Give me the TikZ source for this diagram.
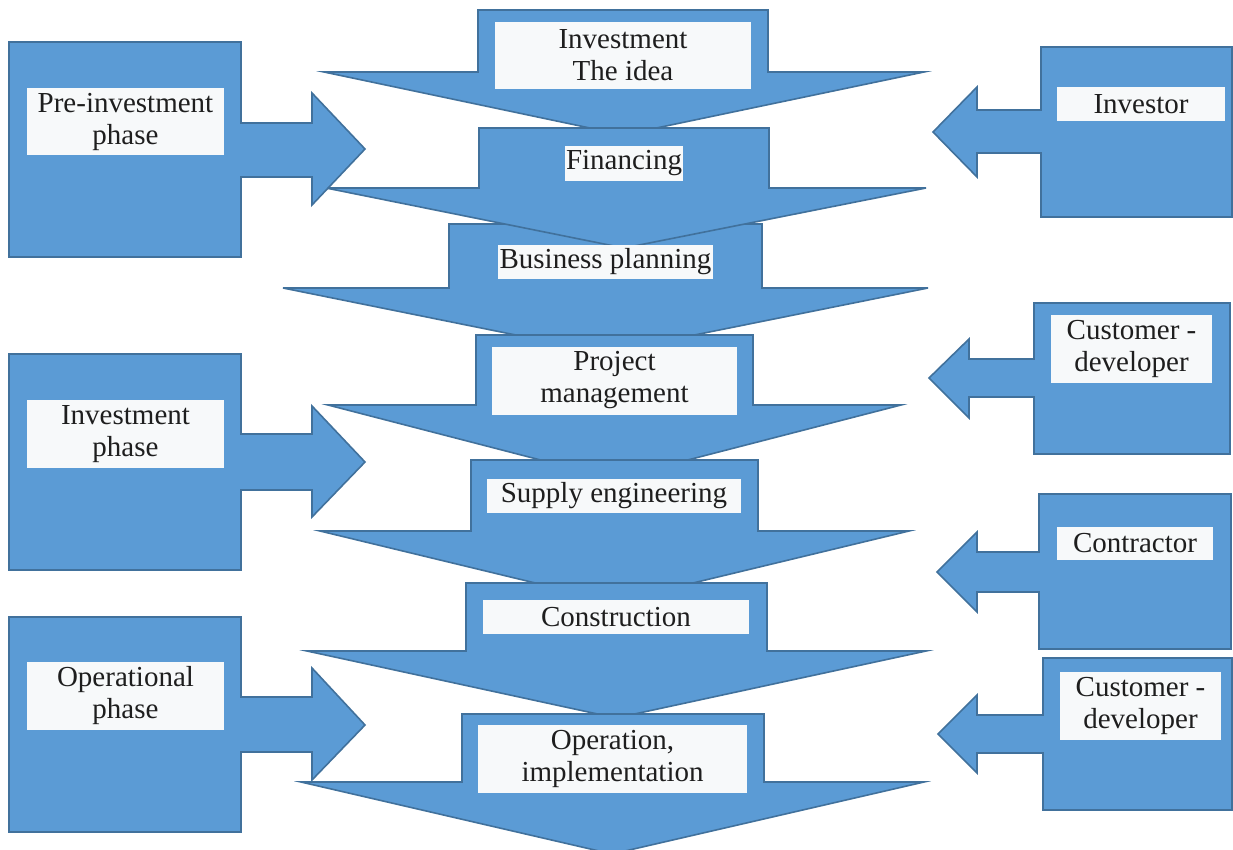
\documentclass[tikz,border=0pt]{standalone}
\usepackage{fontspec}
\setmainfont{Liberation Serif}
\usepackage{tikz}
\usetikzlibrary{backgrounds}
\definecolor{shapeblue}{HTML}{5B9BD5}
\definecolor{shapeedge}{HTML}{41719C}
\definecolor{labelfill}{HTML}{F7F9FA}
\definecolor{labeltext}{HTML}{1E1E1E}
\newcommand{\edgewidth}{1.6pt}
\newcommand{\labelfont}{\fontsize{29}{32}\selectfont}
\tikzset{
blk/.style={fill=shapeblue, draw=shapeedge, line width=\edgewidth, line join=miter},
lbl/.style={fill=labelfill, text=labeltext, align=center, inner sep=1pt, font=\labelfont},
}

\begin{document}
\begin{tikzpicture}[x=1pt, y=-1pt]
\useasboundingbox (0,0) rectangle (1233,849);
%stages
\draw[blk] (478,10) -- (768,10) -- (768,72) -- (924,72) -- (623,135) -- (324,72) -- (478,72) -- cycle;
\draw[blk] (449,224) -- (762,224) -- (762,288) -- (928,288) -- (605,353) -- (283,288) -- (449,288) -- cycle;
\draw[blk] (479,128) -- (769,128) -- (769,188) -- (926,188) -- (624,248) -- (326,188) -- (479,188) -- cycle;
\draw[blk] (476,335) -- (753,335) -- (753,405) -- (901,405) -- (614,479) -- (328,405) -- (476,405) -- cycle;
\draw[blk] (471,460) -- (758,460) -- (758,531) -- (909,531) -- (614,602) -- (320,531) -- (471,531) -- cycle;
\draw[blk] (466,583) -- (767,583) -- (767,651) -- (926,651) -- (616,718) -- (307,651) -- (466,651) -- cycle;
\draw[blk] (462,714) -- (764,714) -- (764,782) -- (924,782) -- (612,854) -- (301,782) -- (462,782) -- cycle;
%phases
\draw[blk] (9,42) -- (241,42) -- (241,123) -- (312,123) -- (312,93) -- (365,149) -- (312,205) -- (312,177) -- (241,177) -- (241,257) -- (9,257) -- cycle;
\draw[blk] (9,354) -- (241,354) -- (241,434) -- (312,434) -- (312,406) -- (365,462) -- (312,517) -- (312,490) -- (241,490) -- (241,570) -- (9,570) -- cycle;
\draw[blk] (9,617) -- (241,617) -- (241,697) -- (312,697) -- (312,668) -- (365,725) -- (312,780) -- (312,752) -- (241,752) -- (241,832) -- (9,832) -- cycle;
%participants
\draw[blk] (1232,47) -- (1041,47) -- (1041,110) -- (977,110) -- (977,87) -- (933,132) -- (977,177) -- (977,153) -- (1041,153) -- (1041,217) -- (1232,217) -- cycle;
\draw[blk] (1230,303) -- (1034,303) -- (1034,359) -- (969,359) -- (969,339) -- (929,378) -- (969,418) -- (969,397) -- (1034,397) -- (1034,454) -- (1230,454) -- cycle;
\draw[blk] (1231,494) -- (1039,494) -- (1039,552) -- (977,552) -- (977,532) -- (937,572) -- (977,612) -- (977,592) -- (1039,592) -- (1039,649) -- (1231,649) -- cycle;
\draw[blk] (1232,658) -- (1043,658) -- (1043,715) -- (977,715) -- (977,695) -- (938,734) -- (977,773) -- (977,753) -- (1043,753) -- (1043,810) -- (1232,810) -- cycle;
%labels
\node[lbl, minimum width=256pt, minimum height=67pt] (idea) at (623,55.5) {Investment\\The idea};
\node[lbl, minimum width=118pt, minimum height=35pt] (fin) at (624,163.5) {Financing};
\node[lbl, minimum width=215pt, minimum height=34pt] (bplan) at (605.5,262) {Business planning};
\node[lbl, minimum width=245pt, minimum height=68pt] (pm) at (614.5,380.5) {Project\\management};
\node[lbl, minimum width=254pt, minimum height=34pt] (supply) at (614,496) {Supply engineering};
\node[lbl, minimum width=266pt, minimum height=34pt] (constr) at (616,617) {Construction};
\node[lbl, minimum width=269pt, minimum height=68pt] (oper) at (612.5,759) {Operation,\\implementation};
\node[lbl, minimum width=197pt, minimum height=67pt] (pre) at (125.5,121.5) {Pre-investment\\phase};
\node[lbl, minimum width=197pt, minimum height=68pt] (invph) at (125.5,434) {Investment\\phase};
\node[lbl, minimum width=197pt, minimum height=68pt] (opph) at (125.5,696) {Operational\\phase};
\node[lbl, minimum width=168pt, minimum height=34pt] (investor) at (1141,104) {Investor};
\node[lbl, minimum width=161pt, minimum height=68pt] (cdevA) at (1131.5,349) {Customer -\\developer};
\node[lbl, minimum width=156pt, minimum height=33pt] (contr) at (1135,543.5) {Contractor};
\node[lbl, minimum width=161pt, minimum height=68pt] (cdevB) at (1140.5,706) {Customer -\\developer};
\end{tikzpicture}
\end{document}
